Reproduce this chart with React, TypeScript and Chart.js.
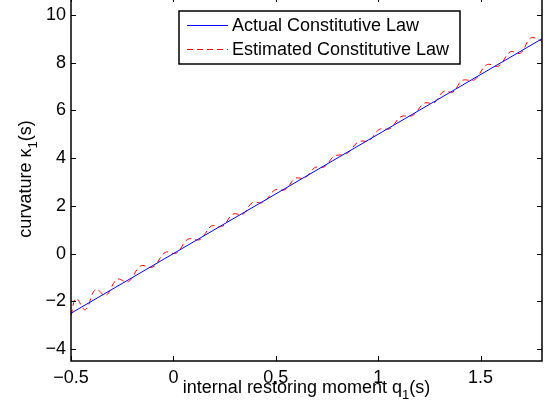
import React, { useEffect, useRef } from "react";
import { Chart, registerables } from "chart.js";

Chart.register(...registerables);

// ---- data ----
const actualQ = [-0.5, 1.8];
const actualKappa = [-2.5, 9.0];

const estimatedQ = [
  -0.5, -0.475, -0.43, -0.38, -0.33, -0.275, -0.22, -0.16, -0.1, -0.04,
  0.015, 0.07, 0.13, 0.185, 0.24, 0.29, 0.34, 0.385, 0.44, 0.495,
  0.545, 0.595, 0.643, 0.69, 0.738, 0.785, 0.845, 0.905, 0.955, 1.005,
  1.058, 1.11, 1.168, 1.225, 1.272, 1.32, 1.365, 1.41, 1.47, 1.53,
  1.588, 1.645, 1.695, 1.745, 1.8,
];
const estimatedKappa = [
  -2.6, -1.88, -2.35, -1.5, -1.75, -1.08, -1.18, -0.52, -0.56, 0.05,
  0.02, 0.6, 0.59, 1.15, 1.15, 1.65, 1.65, 2.13, 2.15, 2.66,
  2.68, 3.15, 3.17, 3.6, 3.64, 4.08, 4.18, 4.69, 4.73, 5.2,
  5.24, 5.73, 5.79, 6.3, 6.31, 6.8, 6.77, 7.25, 7.28, 7.91,
  7.86, 8.45, 8.4, 9.03, 8.9,
];

const xTickValues = [-0.5, 0, 0.5, 1, 1.5];
const yTickValues = [-4, -2, 0, 2, 4, 6, 8, 10];
const xLimits = [-0.5, 1.8];
const yLimits = [-4.5, 10.75];

const seriesLabels = ["Actual Constitutive Law", "Estimated Constitutive Law"];
const seriesColors = ["#0000ff", "#ff0000"];
const seriesDashes: number[][] = [[], [6, 4]];
const xTitleParts = ["internal restoring moment q", "1", "(s)"];
const yTitleParts = ["curvature \u03BA", "1", "(s)"];

const FONT = '"Liberation Sans", Arial, Helvetica, sans-serif';
const SHIFT = 6; // canvas is shifted up so the top axis line is just off-screen
const W = 553;
const H = 410 + SHIFT;

function fmt(v: number): string {
  const s = String(v);
  return v < 0 ? "\u2212" + s.slice(1) : s;
}

function drawSubTitle(ctx: CanvasRenderingContext2D, parts: string[], cx: number, baseY: number) {
  ctx.font = `18px ${FONT}`;
  const w0 = ctx.measureText(parts[0]).width;
  const w2 = ctx.measureText(parts[2]).width;
  ctx.font = `13px ${FONT}`;
  const w1 = ctx.measureText(parts[1]).width;
  const total = w0 + w1 + w2;
  let x = cx - total / 2;
  ctx.textAlign = "left";
  ctx.textBaseline = "alphabetic";
  ctx.fillStyle = "#000";
  ctx.font = `18px ${FONT}`;
  ctx.fillText(parts[0], x, baseY);
  x += w0;
  ctx.font = `13px ${FONT}`;
  ctx.fillText(parts[1], x, baseY + 6);
  x += w1;
  ctx.font = `18px ${FONT}`;
  ctx.fillText(parts[2], x, baseY);
}

const matlabPlugin = {
  id: "matlabDecor",
  afterDraw(chart: any) {
    const { ctx, chartArea: a, scales } = chart;
    ctx.save();
    // inward tick marks on all four sides
    ctx.strokeStyle = "#000";
    ctx.lineWidth = 1;
    ctx.setLineDash([]);
    ctx.beginPath();
    for (const v of xTickValues) {
      const px = Math.round(scales.x.getPixelForValue(v)) + 0.5;
      ctx.moveTo(px, a.bottom);
      ctx.lineTo(px, a.bottom - 5);
      ctx.moveTo(px, a.top);
      ctx.lineTo(px, a.top + 5);
    }
    for (const v of yTickValues) {
      const py = Math.round(scales.y.getPixelForValue(v)) + 0.5;
      ctx.moveTo(a.left, py);
      ctx.lineTo(a.left + 5, py);
      ctx.moveTo(a.right, py);
      ctx.lineTo(a.right - 5, py);
    }
    ctx.stroke();
    // frame
    ctx.lineWidth = 1.5;
    ctx.strokeRect(a.left, a.top, a.right - a.left, a.bottom - a.top);

    // legend box
    const lx = 179, ly = 11 + SHIFT, lw = 281, lh = 53;
    ctx.fillStyle = "#fff";
    ctx.fillRect(lx, ly, lw, lh);
    ctx.lineWidth = 1.5;
    ctx.strokeStyle = "#000";
    ctx.strokeRect(lx, ly, lw, lh);
    const rows = [25 + SHIFT, 49 + SHIFT];
    seriesLabels.forEach((label, i) => {
      const y = rows[i];
      ctx.fillStyle = seriesColors[i];
      const dash = seriesDashes[i];
      if (dash.length === 0) {
        ctx.fillRect(187, y, 41, 1);
      } else {
        let x = 187;
        while (x < 228) {
          ctx.fillRect(x, y, Math.min(dash[0], 228 - x), 1);
          x += dash[0] + dash[1];
        }
      }
      ctx.fillStyle = "#000";
      ctx.font = `18px ${FONT}`;
      ctx.textAlign = "left";
      ctx.textBaseline = "middle";
      ctx.fillText(label, 232, y + 1);
    });

    // axis titles
    drawSubTitle(ctx, xTitleParts, (a.left + a.right) / 2, 393 + SHIFT);
    ctx.save();
    ctx.translate(31, (a.top + a.bottom) / 2);
    ctx.rotate(-Math.PI / 2);
    drawSubTitle(ctx, yTitleParts, 0, 0);
    ctx.restore();
    ctx.restore();
  },
};

export default function App() {
  const ref = useRef<HTMLCanvasElement | null>(null);

  useEffect(() => {
    if (!ref.current) return;
    const chart = new Chart(ref.current, {
      type: "scatter",
      data: {
        datasets: [
          {
            label: seriesLabels[0],
            data: actualQ.map((q, i) => ({ x: q, y: actualKappa[i] })),
            showLine: true,
            borderColor: seriesColors[0],
            borderWidth: 1,
            pointRadius: 0,
          },
          {
            label: seriesLabels[1],
            data: estimatedQ.map((q, i) => ({ x: q, y: estimatedKappa[i] })),
            showLine: true,
            borderColor: seriesColors[1],
            borderWidth: 1,
            borderDash: seriesDashes[1],
            pointRadius: 0,
            tension: 0.4,
          },
        ],
      },
      options: {
        animation: false,
        responsive: false,
        devicePixelRatio: 1,
        layout: { padding: { top: 3, right: 11, left: 0, bottom: 0 } },
        plugins: { legend: { display: false }, tooltip: { enabled: false } },
        scales: {
          x: {
            type: "linear",
            min: xLimits[0],
            max: xLimits[1],
            afterBuildTicks: (s: any) => {
              s.ticks = xTickValues.map((v) => ({ value: v }));
            },
            afterFit: (s: any) => {
              s.height = 49;
              s.paddingLeft = 0;
              s.paddingRight = 0;
            },
            grid: { display: false, drawTicks: false },
            border: { display: false },
            ticks: {
              color: "#000",
              font: { family: FONT, size: 18 },
              padding: 6,
              maxRotation: 0,
              autoSkip: false,
              callback: (v: any) => fmt(Number(v)),
            },
          },
          y: {
            type: "linear",
            min: yLimits[0],
            max: yLimits[1],
            afterBuildTicks: (s: any) => {
              s.ticks = yTickValues.map((v) => ({ value: v }));
            },
            afterFit: (s: any) => {
              s.width = 71;
              s.paddingTop = 0;
              s.paddingBottom = 0;
            },
            grid: { display: false, drawTicks: false },
            border: { display: false },
            ticks: {
              color: "#000",
              font: { family: FONT, size: 18 },
              padding: 5,
              autoSkip: false,
              callback: (v: any) => fmt(Number(v)),
            },
          },
        },
      },
      plugins: [matlabPlugin],
    });
    return () => chart.destroy();
  }, []);

  return (
    <div style={{ position: "fixed", left: 0, top: -SHIFT, width: W, height: H, background: "#fff" }}>
      <canvas ref={ref} width={W} height={H} style={{ display: "block", width: W, height: H }} />
    </div>
  );
}
